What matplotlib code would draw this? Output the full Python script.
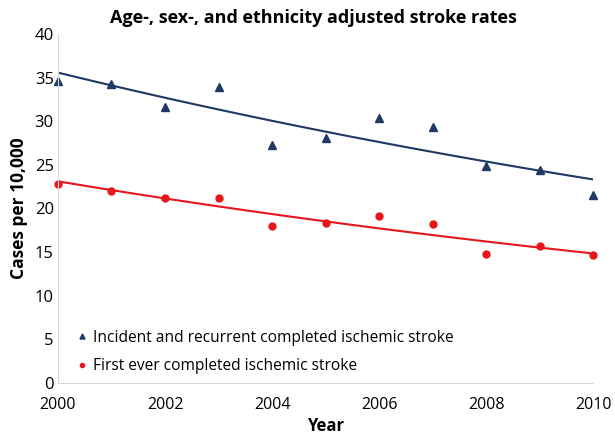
import numpy as np
import matplotlib
matplotlib.use('Agg')
import matplotlib.pyplot as plt

plt.rcParams['font.family'] = ['Open Sans', 'DejaVu Sans']

# values
years = [2000, 2001, 2002, 2003, 2004, 2005, 2006, 2007, 2008, 2009, 2010]
recurrent = [34.6, 34.3, 31.6, 33.9, 27.3, 28.1, 30.4, 29.3, 24.9, 24.4, 21.5]
first_ever = [22.8, 22.0, 21.2, 21.2, 18.0, 18.3, 19.1, 18.2, 14.8, 15.7, 14.7]

BLUE = '#1f3864'
RED = '#e8161b'

x = np.array(years, dtype=float)


def exp_trend(xv, yv):
    # exponential trendline, like the spreadsheet one
    b, a = np.polyfit(xv - xv[0], np.log(yv), 1)
    xs = np.linspace(xv[0], xv[-1], 100)
    return xs, np.exp(a + b * (xs - xv[0]))


fig = plt.figure(figsize=(6.15, 4.34), dpi=100)
ax = fig.add_axes([0.0943, 0.1175, 0.870, 0.8042])

ax.plot(x, recurrent, linestyle='none', marker='^', markersize=6,
        color=BLUE, clip_on=False,
        label='Incident and recurrent completed ischemic stroke')
ax.plot(x, first_ever, linestyle='none', marker='o', markersize=5,
        color=RED, clip_on=False,
        label='First ever completed ischemic stroke')

xs, ys = exp_trend(x, np.array(recurrent))
ax.plot(xs, ys, color=BLUE, linewidth=1.5)
xs, ys = exp_trend(x, np.array(first_ever))
ax.plot(xs, ys, color=RED, linewidth=1.5)

ax.set_xlim(2000, 2010)
ax.set_ylim(0, 40)
ax.set_xticks([2000, 2002, 2004, 2006, 2008, 2010])
ax.set_yticks(range(0, 41, 5))
ax.tick_params(axis='x', length=0, labelsize=11.5, pad=10)
ax.tick_params(axis='y', length=0, labelsize=12, pad=3)

for s in ['top', 'right']:
    ax.spines[s].set_visible(False)
for s in ['left', 'bottom']:
    ax.spines[s].set_color('#d9d9d9')

ax.set_xlabel('Year', fontsize=12, fontweight='bold', labelpad=3)
ax.set_ylabel('Cases per 10,000', fontsize=12.5, fontweight='bold', labelpad=5)
fig.text(0.51, 0.958, 'Age-, sex-, and ethnicity adjusted stroke rates',
         ha='center', va='center', fontsize=13, fontweight='bold')

ax.legend(loc='lower left', bbox_to_anchor=(0.01, -0.015), frameon=False,
          fontsize=11.2, markerscale=0.6, handlelength=0.6, handletextpad=0.4,
          labelspacing=0.8)

fig.savefig('out.png', dpi=100)
